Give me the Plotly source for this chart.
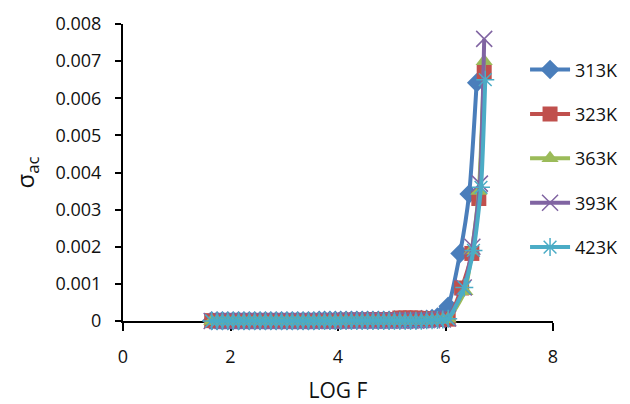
import plotly.graph_objects as go

# ---- data ----
series_names = ["313K", "323K", "363K", "393K", "423K"]

# low-frequency part, shared log F positions
logf_low = [1.65, 1.75, 1.85, 1.95, 2.05, 2.15, 2.25, 2.35, 2.45, 2.55,
            2.65, 2.75, 2.85, 2.95, 3.05, 3.15, 3.25, 3.35, 3.45, 3.55,
            3.65, 3.75, 3.85, 3.95, 4.05, 4.15, 4.25, 4.35, 4.45, 4.55,
            4.65, 4.75, 4.85, 4.95, 5.05, 5.15, 5.25, 5.35, 5.45, 5.55,
            5.65, 5.75, 5.85, 5.95, 6.05]

sig_313_low = [0.00001, 0.00001, 0.00001, 0.00001, 0.00001, 0.00001, 0.00001, 0.00001, 0.00001, 0.00001,
               0.00001, 0.00001, 0.00001, 0.00001, 0.00001, 0.00001, 0.00001, 0.00001, 0.00001, 0.00001,
               0.00002, 0.00002, 0.00002, 0.00002, 0.00002, 0.00002, 0.00002, 0.00002, 0.00002, 0.00002,
               0.00002, 0.00002, 0.00002, 0.00002, 0.00003, 0.00003, 0.00003, 0.00003, 0.00003, 0.00004,
               0.00005, 0.00007, 0.00011, 0.0002, 0.0004]
sig_323_low = [0.00001, 0.00001, 0.00001, 0.00001, 0.00001, 0.00001, 0.00001, 0.00001, 0.00001, 0.00001,
               0.00001, 0.00001, 0.00001, 0.00001, 0.00001, 0.00001, 0.00001, 0.00001, 0.00001, 0.00001,
               0.00001, 0.00001, 0.00001, 0.00001, 0.00001, 0.00002, 0.00002, 0.00002, 0.00002, 0.00002,
               0.00004, 0.00004, 0.00004, 0.00004, 0.00004, 0.00008, 0.00008, 0.00008, 0.00008, 0.00007,
               0.00006, 0.00005, 0.00004, 0.00004, 0.00005]
sig_363_low = [0.0, 0.0, 0.0, 0.0, 0.0, 0.0, 0.0, 0.0, 0.0, 0.0,
               0.0, 0.0, 0.0, 0.0, 0.0, 0.0, 0.0, 0.0, 0.0, 0.0,
               0.0, 0.0, 0.0, 0.0, 0.0, 0.00001, 0.00001, 0.00001, 0.00001, 0.00001,
               0.00001, 0.00001, 0.00001, 0.00001, 0.00001, 0.00001, 0.00001, 0.00001, 0.00001, 0.00001,
               0.00002, 0.00002, 0.00003, 0.00004, 0.00006]
sig_393_low = [0.0, 0.0, 0.0, 0.0, 0.0, 0.0, 0.0, 0.0, 0.0, 0.0,
               0.0, 0.0, 0.0, 0.0, 0.0, 0.0, 0.0, 0.0, 0.0, 0.0,
               0.0, 0.0, 0.0, 0.0, 0.0, 0.00001, 0.00001, 0.00001, 0.00001, 0.00001,
               0.00001, 0.00001, 0.00001, 0.00001, 0.00001, 0.00001, 0.00001, 0.00001, 0.00001, 0.00002,
               0.00002, 0.00002, 0.00003, 0.00004, 0.00007]
sig_423_low = [0.0, 0.0, 0.0, 0.0, 0.0, 0.0, 0.0, 0.0, 0.0, 0.0,
               0.0, 0.0, 0.0, 0.0, 0.0, 0.0, 0.0, 0.0, 0.0, 0.0,
               0.0, 0.0, 0.0, 0.0, 0.0, 0.00001, 0.00001, 0.00001, 0.00001, 0.00001,
               0.00001, 0.00001, 0.00001, 0.00001, 0.00001, 0.00001, 0.00001, 0.00001, 0.00001, 0.00001,
               0.00002, 0.00002, 0.00003, 0.00004, 0.00006]

# high-frequency rise
logf_313_high = [6.27, 6.44, 6.58]
sig_313_high = [0.00182, 0.00342, 0.00642]
logf_323_high = [6.30, 6.49, 6.62, 6.72]
sig_323_high = [0.00089, 0.00182, 0.0033, 0.0067]
logf_363_high = [6.36, 6.49, 6.62, 6.72]
sig_363_high = [0.0008, 0.0019, 0.0035, 0.0070]
logf_393_high = [6.34, 6.50, 6.64, 6.72]
sig_393_high = [0.0009, 0.0020, 0.0037, 0.0076]
logf_423_high = [6.35, 6.52, 6.66, 6.74]
sig_423_high = [0.0009, 0.0019, 0.0036, 0.0065]

x_ticks = [0, 2, 4, 6, 8]
y_ticks = [0, 0.001, 0.002, 0.003, 0.004, 0.005, 0.006, 0.007, 0.008]
y_tick_text = ["0", "0.001", "0.002", "0.003", "0.004", "0.005", "0.006", "0.007", "0.008"]

# ---- styling ----
xs = [logf_low + logf_313_high, logf_low + logf_323_high, logf_low + logf_363_high,
      logf_low + logf_393_high, logf_low + logf_423_high]
ys = [sig_313_low + sig_313_high, sig_323_low + sig_323_high, sig_363_low + sig_363_high,
      sig_393_low + sig_393_high, sig_423_low + sig_423_high]
colors = ["#4A7EBB", "#C0504D", "#9BBB59", "#8064A2", "#4BACC6"]
symbols = ["diamond", "square", "triangle-up", "x-thin-open", "asterisk-open"]
sizes = [15, 15, 15, 16, 15]

FONT = "Open Sans"
fig = go.Figure()
for i, name in enumerate(series_names):
    open_sym = symbols[i].endswith("open")
    fig.add_trace(go.Scatter(
        x=xs[i], y=ys[i], name=name, mode="lines+markers",
        legendgroup=name,
        line=dict(color=colors[i], width=4, shape="spline", smoothing=0.6),
        marker=dict(symbol=symbols[i], size=sizes[i], color=colors[i],
                    line=dict(color=colors[i], width=1.5 if open_sym else 0)),
        cliponaxis=False,
    ))

# the page body adds an 8px offset, so the figure is 8px smaller on each side
fig.update_layout(
    width=622, height=396,
    margin=dict(l=115, r=77, t=16, b=83, autoexpand=False),
    paper_bgcolor="white", plot_bgcolor="white",
    font=dict(family=FONT, size=18, color="#111"),
    showlegend=True,
    legend=dict(x=0.935, y=0.908, xanchor="left", yanchor="top",
                font=dict(family=FONT, size=18, color="#111"),
                itemwidth=40, tracegroupgap=18, bgcolor="rgba(0,0,0,0)"),
    xaxis=dict(range=[0, 8], tickvals=x_ticks, showgrid=False, zeroline=False, automargin=False,
               showline=True, linecolor="black", linewidth=2, layer="below traces",
               ticks="outside", ticklen=8, tickwidth=2, tickcolor="black",
               ticklabelstandoff=10,
               tickfont=dict(family=FONT, size=18, color="#111"),
               title=dict(text="LOG F", font=dict(family=FONT, size=21, color="#111"), standoff=20)),
    yaxis=dict(range=[0, 0.008], tickvals=y_ticks, ticktext=y_tick_text, showgrid=False,
               zeroline=False, showline=True, linecolor="black", linewidth=2, layer="below traces",
               automargin=False,
               ticks="outside", ticklen=6, tickwidth=2, tickcolor="black",
               ticklabelstandoff=10,
               tickfont=dict(family=FONT, size=18, color="#111"),
               title=dict(text="σ<sub>ac</sub>", font=dict(family=FONT, size=24, color="#111"), standoff=29)),
)

fig.write_html("out.html")
